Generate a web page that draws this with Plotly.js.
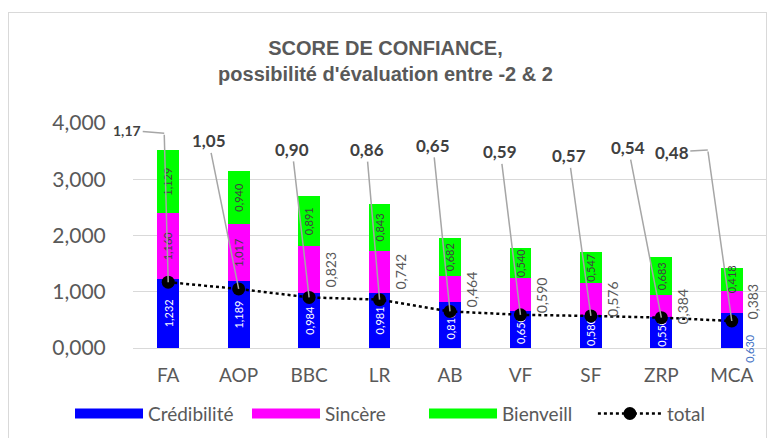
<!DOCTYPE html>
<html><head><meta charset="utf-8">
<script src="https://cdn.plot.ly/plotly-3.0.1.min.js"></script>
<style>
html,body{margin:0;padding:0;background:#fff;}
#chart{width:771px;height:438px;position:absolute;left:0;top:0;}
#frame{position:absolute;left:8px;top:12px;width:757px;height:440px;border:1px solid #d9d9d9;pointer-events:none;}
</style>
</head><body>
<div id="chart"></div><div id="frame"></div>
<script>
const categories = ['FA','AOP','BBC','LR','AB','VF','SF','ZRP','MCA'];
const credibilite = [1.232,1.189,0.984,0.981,0.810,0.650,0.580,0.550,0.630];
const sincere     = [1.160,1.017,0.823,0.742,0.464,0.590,0.576,0.384,0.383];
const bienveill   = [1.129,0.940,0.891,0.843,0.682,0.540,0.547,0.683,0.418];
const total       = [1.17,1.05,0.90,0.86,0.65,0.59,0.57,0.54,0.48];
const seriesNames = ['Crédibilité','Sincère','Bienveill','total'];
// label placement lists
const sincereOutside = ['BBC','LR','AB','VF','SF','ZRP','MCA'];
const credibiliteOutside = ['MCA'];
// total label offsets (px) relative to point
const totalLabelAx = [-41,-30,-17,-13,-17,-20,-22,-33,-59];
const totalLabelAy = [-150,-148,-148,-150,-166,-163,-160,-170,-169];
// leader lines with an elbow: [elbow dx, elbow dy, label dx from elbow, label dy from elbow]
const totalLabelElbow = {FA:[-4,-149,-37,-3], MCA:[-24,-171,-36,2]};

const f3 = v => v.toFixed(3).replace('.', ',');
const f2 = v => v.toFixed(2).replace('.', ',');
const FONT = 'Lato, "Open Sans", sans-serif';
const GREY = '#595959';
const COLORS = ['#0000FF','#FF00FF','#00FF00'];

function barTrace(name, vals, color, texts, tcolor, tsize){
  return {type:'bar', name:name, x:categories, y:vals, marker:{color:color},
    text:texts, textposition:'inside', insidetextanchor:'middle', textangle:-90,
    textfont:{family:FONT,size:tsize,color:tcolor}, hoverinfo:'y',
    legendgroup:name, showlegend:false};
}
function legendTrace(name, color){
  return {type:'scatter', mode:'lines', name:name, x:[null], y:[null],
    line:{color:color, width:11}, legendgroup:name, showlegend:true, hoverinfo:'skip',
    legend:'legend'};
}

const traces = [
  barTrace(seriesNames[0], credibilite, COLORS[0],
    credibilite.map((v,i)=>credibiliteOutside.includes(categories[i])?'':f3(v)), '#FFFFFF', 11),
  barTrace(seriesNames[1], sincere, COLORS[1],
    sincere.map((v,i)=>sincereOutside.includes(categories[i])?'':f3(v)), '#404040', 13),
  barTrace(seriesNames[2], bienveill, COLORS[2], bienveill.map(f3), '#404040', 13),
  legendTrace(seriesNames[0], COLORS[0]),
  legendTrace(seriesNames[1], COLORS[1]),
  legendTrace(seriesNames[2], COLORS[2]),
  {type:'scatter', mode:'lines+markers', name:seriesNames[3], x:categories, y:total,
   line:{color:'#000000', width:2.5, dash:'dot'},
   marker:{color:'#000000', size:13, symbol:'circle'}, legend:'legend2'}
];

const annotations = [];
categories.forEach((c,i)=>{
  if (sincereOutside.includes(c)) {
    annotations.push({x:c, y:credibilite[i]+sincere[i]/2, xref:'x', yref:'y',
      text:f3(sincere[i]), showarrow:false, textangle:-90, xshift:21,
      font:{family:FONT,size:14,color:GREY}});
  }
  if (credibiliteOutside.includes(c)) {
    annotations.push({x:c, y:0, xref:'x', yref:'y',
      text:f3(credibilite[i]), showarrow:false, textangle:-90, xshift:17, yshift:0,
      font:{family:FONT,size:11,color:'#4472C4'}});
  }
  const lab = '<b>'+f2(total[i])+'</b>';
  const lfont = {family:FONT,size:i===0?14:17,color:'#404040'};
  const arrow = {showarrow:true, arrowhead:0, arrowwidth:1.5, arrowcolor:'#A6A6A6', standoff:0};
  const e = totalLabelElbow[c];
  if (e) {
    annotations.push(Object.assign({x:c, y:total[i], xref:'x', yref:'y', text:'',
      ax:e[0], ay:e[1]}, arrow));
    annotations.push(Object.assign({x:c, y:total[i], xref:'x', yref:'y', text:lab,
      xshift:e[0], yshift:-e[1], ax:e[2], ay:e[3], font:lfont}, arrow));
  } else {
    annotations.push(Object.assign({x:c, y:total[i], xref:'x', yref:'y', text:lab,
      ax:totalLabelAx[i], ay:totalLabelAy[i], font:lfont}, arrow));
  }
});

const legendCommon = {orientation:'h', xref:'container', xanchor:'left',
  yref:'container', y:0.099, yanchor:'top', font:{family:FONT,size:19,color:GREY},
  traceorder:'normal', bgcolor:'rgba(0,0,0,0)'};

const layout = {
  width:771, height:438,
  margin:{l:133, r:4, t:123, b:90, autoexpand:false},
  paper_bgcolor:'#FFFFFF', plot_bgcolor:'#FFFFFF',
  separators:', ',
  barmode:'stack', bargap:0.69,
  uniformtext:{mode:'show', minsize:11},
  title:{text:'<b>SCORE DE CONFIANCE,<br>possibilité d\'évaluation entre -2 & 2</b>',
    x:0.5, xref:'container', xanchor:'center', y:0.874, yref:'container', yanchor:'top',
    font:{family:'"Liberation Sans", Arial, sans-serif', size:20, color:GREY}},
  xaxis:{type:'category', range:[-0.5, categories.length-0.5], autorange:false,
    automargin:false, showgrid:false, showline:true, linecolor:'#D9D9D9', linewidth:1,
    ticks:'outside', ticklen:10, tickcolor:'rgba(0,0,0,0)',
    tickfont:{family:FONT,size:19,color:GREY}, fixedrange:true},
  yaxis:{range:[0,4], autorange:false, dtick:1, tickformat:'.3f', automargin:false, showgrid:true, gridcolor:'#D9D9D9', gridwidth:1,
    zeroline:false, showline:false, ticks:'outside', ticklen:22, tickcolor:'rgba(0,0,0,0)',
    tickfont:{family:FONT,size:21,color:GREY}, fixedrange:true},
  showlegend:true,
  legend:Object.assign({}, legendCommon, {x:0.0908, itemwidth:68, entrywidth:94, entrywidthmode:'pixels'}),
  legend2:Object.assign({}, legendCommon, {x:0.769, itemwidth:64}),
  annotations:annotations
};

Plotly.newPlot('chart', traces, layout, {displayModeBar:false, staticPlot:true});
</script>
</body></html>
